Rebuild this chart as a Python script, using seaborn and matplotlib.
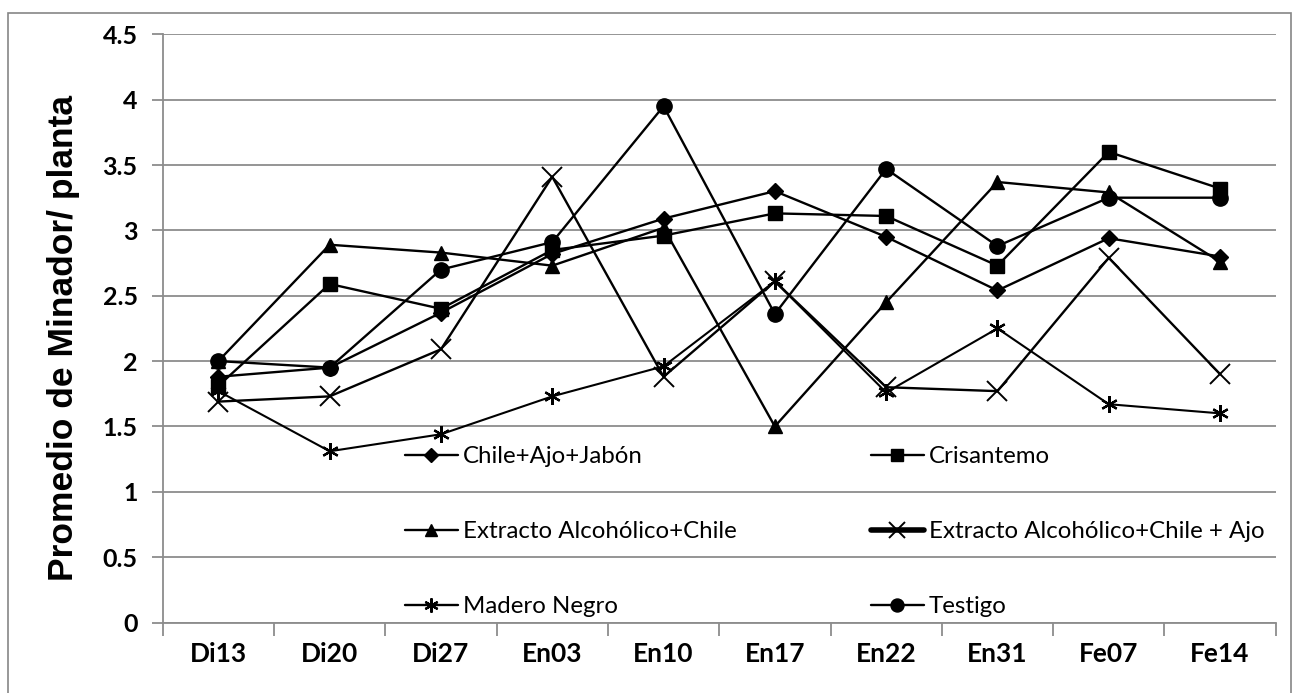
import matplotlib
matplotlib.use("Agg")
import matplotlib.pyplot as plt
import seaborn as sns
import pandas as pd
from matplotlib.lines import Line2D

fechas = ["Di13", "Di20", "Di27", "En03", "En10", "En17", "En22", "En31", "Fe07", "Fe14"]

chile_ajo_jabon = [1.88, 1.95, 2.37, 2.82, 3.09, 3.30, 2.95, 2.54, 2.94, 2.80]
crisantemo      = [1.81, 2.59, 2.40, 2.85, 2.96, 3.13, 3.11, 2.73, 3.60, 3.32]
extracto_chile  = [2.00, 2.89, 2.83, 2.73, 3.02, 1.50, 2.45, 3.37, 3.29, 2.76]
extracto_ajo    = [1.69, 1.73, 2.09, 3.41, 1.88, 2.61, 1.80, 1.77, 2.79, 1.90]
madero_negro    = [1.77, 1.31, 1.44, 1.73, 1.96, 2.61, 1.76, 2.25, 1.67, 1.60]
testigo         = [2.00, 1.95, 2.70, 2.91, 3.95, 2.36, 3.47, 2.88, 3.25, 3.25]

series_names = ["Chile+Ajo+Jabón", "Crisantemo", "Extracto Alcohólico+Chile",
                "Extracto Alcohólico+Chile + Ajo", "Madero Negro", "Testigo"]
series_vals = [chile_ajo_jabon, crisantemo, extracto_chile, extracto_ajo, madero_negro, testigo]

y_ticks = [0, 0.5, 1, 1.5, 2, 2.5, 3, 3.5, 4, 4.5]
y_ticklabels = ["0", "0.5", "1", "1.5", "2", "2.5", "3", "3.5", "4", "4.5"]
y_label = "Promedio de Minador/ planta"

styles = {
    "Chile+Ajo+Jabón": dict(marker="D", markersize=8, lw=1.7, mew=1),
    "Crisantemo": dict(marker="s", markersize=10, lw=1.7, mew=1),
    "Extracto Alcohólico+Chile": dict(marker="^", markersize=10, lw=1.7, mew=1),
    "Extracto Alcohólico+Chile + Ajo": dict(marker="x", markersize=14, lw=1.7, mew=1.4),
    "Madero Negro": dict(marker=(6, 2, 0), markersize=12, lw=1.5, mew=1.6),
    "Testigo": dict(marker="o", markersize=11, lw=1.7, mew=1),
}

sns.set_theme(style="white")
plt.rcParams["font.family"] = ["Lato", "DejaVu Sans"]

fig = plt.figure(figsize=(12.96, 6.93), dpi=100)
ax = fig.add_axes([162.7 / 1296, 1 - 622.5 / 693, (1275.7 - 162.7) / 1296, (622.5 - 34.3) / 693])

for name, vals in zip(series_names, series_vals):
    df = pd.DataFrame({"fecha": fechas, "valor": vals})
    st = styles[name]
    sns.lineplot(data=df, x="fecha", y="valor", ax=ax, color="black",
                 marker=st["marker"], markersize=st["markersize"], linewidth=st["lw"],
                 markeredgewidth=st["mew"], markeredgecolor="black", markerfacecolor="black",
                 sort=False, zorder=3)

ax.set_xlim(-0.5, len(fechas) - 0.5)
ax.set_ylim(0, 4.5)
ax.set_yticks(y_ticks)
ax.set_yticklabels(y_ticklabels, fontsize=18, fontweight="bold", color="black")
ax.set_xticks(range(len(fechas)))
ax.set_xticklabels(fechas, fontsize=19, fontweight="bold", color="black")
ax.set_xticks([i - 0.5 for i in range(len(fechas) + 1)], minor=True)
ax.set_xlabel("")
ax.set_ylabel("")

grid_c = "#8c8c8c"
ax.yaxis.grid(True, color=grid_c, linewidth=1.3, zorder=0)
ax.xaxis.grid(False)
for s in ["top", "right"]:
    ax.spines[s].set_visible(False)
for s in ["left", "bottom"]:
    ax.spines[s].set_color(grid_c)
    ax.spines[s].set_linewidth(1.3)

ax.tick_params(axis="x", which="major", length=0, pad=14)
ax.tick_params(axis="x", which="minor", length=9, width=1.3, color=grid_c, direction="out", bottom=True)
ax.tick_params(axis="y", which="major", length=8, width=1.3, color=grid_c, direction="out", left=True,
               pad=10)

fig.text(64 / 1296, 1 - 338 / 693, y_label, rotation=90, ha="center", va="center",
         fontsize=25.5, fontweight="bold", family=["Liberation Sans", "DejaVu Sans"], color="black")

order = ["Chile+Ajo+Jabón", "Extracto Alcohólico+Chile", "Madero Negro",
         "Crisantemo", "Extracto Alcohólico+Chile + Ajo", "Testigo"]
leg_handles = []
for name in order:
    st = styles[name]
    lw = 4.0 if name == "Extracto Alcohólico+Chile + Ajo" else 1.7
    ms = st["markersize"] * 0.85
    leg_handles.append(Line2D([], [], color="black", marker=st["marker"], markersize=ms,
                              linewidth=lw, markeredgewidth=st["mew"]))
leg = ax.legend(leg_handles, order, ncol=2, frameon=False, loc="upper left",
                bbox_to_anchor=((405 - 162.7) / 1113, (622.5 - 446) / 588.2),
                fontsize=17.3, handlelength=2.2, handletextpad=0.2,
                labelspacing=2.25, columnspacing=5.6, borderaxespad=0, borderpad=0)
for t in leg.get_texts():
    t.set_color("black")

fig.add_artist(plt.Rectangle((8 / 1296, -0.05), (1291 - 8) / 1296, 1.05 - 13 / 693,
                             transform=fig.transFigure, fill=False, edgecolor="#868686",
                             linewidth=1.2))

fig.savefig("out.png", dpi=100, facecolor="white")
